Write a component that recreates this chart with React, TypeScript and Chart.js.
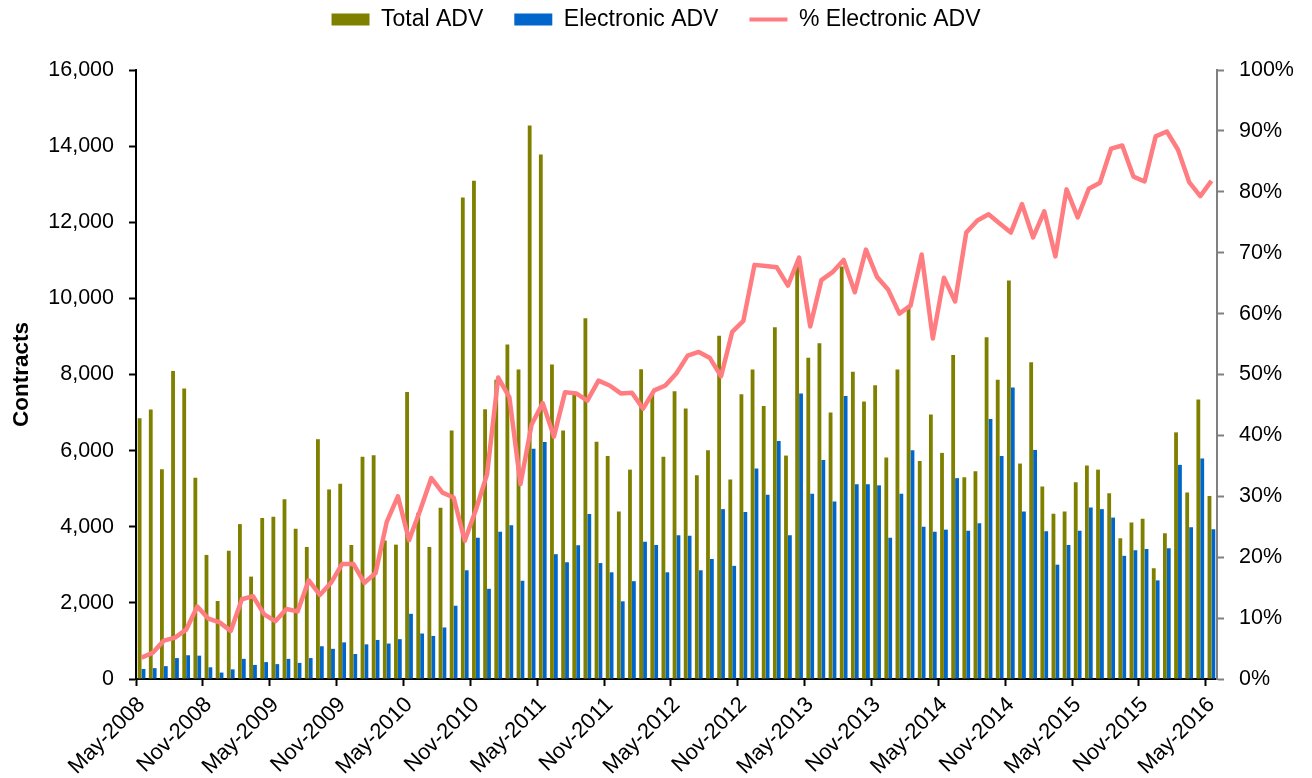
import React, { useEffect, useRef } from 'react';
import { Chart, registerables } from 'chart.js';

Chart.register(...registerables);

const categories = [
  'May-2008', 'Jun-2008', 'Jul-2008', 'Aug-2008', 'Sep-2008', 'Oct-2008', 'Nov-2008', 'Dec-2008',
  'Jan-2009', 'Feb-2009', 'Mar-2009', 'Apr-2009', 'May-2009', 'Jun-2009', 'Jul-2009', 'Aug-2009', 'Sep-2009', 'Oct-2009', 'Nov-2009', 'Dec-2009',
  'Jan-2010', 'Feb-2010', 'Mar-2010', 'Apr-2010', 'May-2010', 'Jun-2010', 'Jul-2010', 'Aug-2010', 'Sep-2010', 'Oct-2010', 'Nov-2010', 'Dec-2010',
  'Jan-2011', 'Feb-2011', 'Mar-2011', 'Apr-2011', 'May-2011', 'Jun-2011', 'Jul-2011', 'Aug-2011', 'Sep-2011', 'Oct-2011', 'Nov-2011', 'Dec-2011',
  'Jan-2012', 'Feb-2012', 'Mar-2012', 'Apr-2012', 'May-2012', 'Jun-2012', 'Jul-2012', 'Aug-2012', 'Sep-2012', 'Oct-2012', 'Nov-2012', 'Dec-2012',
  'Jan-2013', 'Feb-2013', 'Mar-2013', 'Apr-2013', 'May-2013', 'Jun-2013', 'Jul-2013', 'Aug-2013', 'Sep-2013', 'Oct-2013', 'Nov-2013', 'Dec-2013',
  'Jan-2014', 'Feb-2014', 'Mar-2014', 'Apr-2014', 'May-2014', 'Jun-2014', 'Jul-2014', 'Aug-2014', 'Sep-2014', 'Oct-2014', 'Nov-2014', 'Dec-2014',
  'Jan-2015', 'Feb-2015', 'Mar-2015', 'Apr-2015', 'May-2015', 'Jun-2015', 'Jul-2015', 'Aug-2015', 'Sep-2015', 'Oct-2015', 'Nov-2015', 'Dec-2015',
  'Jan-2016', 'Feb-2016', 'Mar-2016', 'Apr-2016', 'May-2016',
];

// Tick labels shown on the x axis (every six months)
const tickLabels = [
  'May-2008', 'Nov-2008', 'May-2009', 'Nov-2009', 'May-2010', 'Nov-2010', 'May-2011', 'Nov-2011', 'May-2012',
  'Nov-2012', 'May-2013', 'Nov-2013', 'May-2014', 'Nov-2014', 'May-2015', 'Nov-2015', 'May-2016',
];

const totalADV = [
  6850, 7080, 5510, 8090, 7630, 5290, 3260, 2050,
  3370, 4070, 2690, 4230, 4260, 4720, 3950, 3470, 6300, 4980, 5130, 3520,
  5840, 5880, 3640, 3530, 7540, 4370, 3470, 4500, 6530, 12650, 13090, 7090,
  7860, 8790, 8130, 14540, 13780, 8260, 6530, 7460, 9480, 6230, 5860, 4400,
  5500, 8140, 7490, 5840, 7560, 7110, 5350, 6010, 9020, 5240, 7480, 8130,
  7170, 9240, 5870, 10850, 8440, 8820, 7000, 10840, 8070, 7290, 7720, 5820,
  8130, 9810, 5730, 6950, 5940, 8510, 5300, 5460, 8980, 7860, 10470, 5660,
  8320, 5060, 4340, 4400, 5170, 5610, 5500, 4880, 3700, 4110, 4210, 2910,
  3830, 6480, 4900, 7340, 4810,
];

const electronicADV = [
  264, 285, 338, 550, 624, 613, 307, 169,
  254, 529, 370, 444, 391, 529, 423, 550, 860, 793, 962, 656,
  910, 1026, 931, 1047, 1713, 1195, 1132, 1354, 1925, 2856, 3712, 2369,
  3871, 4040, 2581, 6049, 6229, 3279, 3067, 3511, 4336, 3046, 2803, 2041,
  2570, 3606, 3522, 2803, 3776, 3765, 2856, 3152, 4463, 2972, 4389, 5531,
  4844, 6250, 3776, 7498, 4865, 5753, 4664, 7435, 5119, 5119, 5087, 3712,
  4865, 6007, 3998, 3871, 3924, 5277, 3892, 4093, 6832, 5859, 7657, 4400,
  6018, 3881, 3004, 3522, 3892, 4505, 4463, 4241, 3236, 3384, 3416, 2591,
  3437, 5626, 3987, 5796, 3934,
];

const pctElectronic = [
  3.5, 4.3, 6.3, 6.8, 8.1, 11.9, 9.9, 9.3,
  7.9, 13.1, 13.6, 10.6, 9.5, 11.5, 11.1, 16.2, 13.8, 15.8, 18.9, 18.9,
  15.8, 17.4, 25.8, 30.0, 22.8, 27.7, 33.0, 30.6, 29.8, 22.7, 27.8, 33.6,
  49.5, 46.3, 32.0, 41.8, 45.3, 39.8, 47.1, 46.9, 45.7, 49.0, 48.2, 46.9,
  47.0, 44.4, 47.4, 48.2, 50.2, 53.1, 53.7, 52.7, 49.7, 57.0, 58.8, 68.0,
  67.8, 67.6, 64.6, 69.2, 57.9, 65.5, 66.8, 68.8, 63.5, 70.5, 66.0, 63.9,
  60.0, 61.3, 69.7, 55.9, 65.9, 62.0, 73.3, 75.3, 76.3, 74.8, 73.3, 78.0,
  72.5, 76.8, 69.4, 80.4, 75.8, 80.5, 81.5, 87.1, 87.6, 82.5, 81.7, 89.1,
  89.9, 86.9, 81.6, 79.3, 81.8,
];

const FONT = "'Liberation Sans', Arial, Helvetica, sans-serif";
const OLIVE = '#808000';
const BLUE = '#0066CC';
const PINK = '#FF7C80';
const TICK_SIZE = 21.5;

export default function App() {
  const canvasRef = useRef<HTMLCanvasElement | null>(null);

  useEffect(() => {
    const canvas = canvasRef.current;
    if (!canvas) return;

    const legendMargin = {
      id: 'legendMargin',
      beforeInit(chart: any) {
        const legend = chart.legend;
        if (!legend) return;
        const origFit = legend.fit;
        legend.fit = function fit() {
          origFit.call(this);
          this.height += 29;
        };
      },
    };

    const chart = new Chart(canvas, {
      type: 'bar',
      data: {
        labels: categories,
        datasets: [
          {
            type: 'bar',
            label: 'Total ADV',
            data: totalADV,
            backgroundColor: OLIVE,
            borderWidth: 0,
            yAxisID: 'y',
            order: 1,
            categoryPercentage: 0.7,
            barPercentage: 0.98,
          },
          {
            type: 'bar',
            label: 'Electronic ADV',
            data: electronicADV,
            backgroundColor: BLUE,
            borderWidth: 0,
            yAxisID: 'y',
            order: 1,
            categoryPercentage: 0.7,
            barPercentage: 0.98,
          },
          {
            type: 'line',
            label: '% Electronic ADV',
            data: pctElectronic,
            borderColor: PINK,
            backgroundColor: PINK,
            borderWidth: 4.5,
            pointRadius: 0,
            tension: 0,
            borderJoinStyle: 'round',
            yAxisID: 'y1',
            order: 0,
          },
        ] as any,
      },
      options: {
        animation: false,
        responsive: false,
        maintainAspectRatio: false,
        layout: { padding: { left: 0, right: 0, top: 0, bottom: 0 } },
        plugins: {
          legend: {
            position: 'top',
            labels: {
              font: { family: FONT, size: 23 },
              color: '#000',
              usePointStyle: true,
              pointStyleWidth: 38,
              boxHeight: 12,
              padding: 8,
              generateLabels: (c: any) =>
                c.data.datasets.map((ds: any, i: number) => ({
                  text: i < 2 ? `${ds.label}\u2003` : ds.label,
                  fillStyle: i === 2 ? PINK : ds.backgroundColor,
                  strokeStyle: i === 2 ? PINK : ds.backgroundColor,
                  lineWidth: i === 2 ? 4 : 0,
                  pointStyle: i === 2 ? 'line' : 'rect',
                  datasetIndex: i,
                  hidden: false,
                  fontColor: '#000',
                })),
            },
          },
          tooltip: { enabled: false },
        },
        scales: {
          x: {
            type: 'category',
            offset: true,
            grid: {
              offset: true,
              drawOnChartArea: false,
              tickLength: 7,
              tickWidth: 2,
              tickColor: (ctx: any) => (ctx.index % 6 === 0 ? '#000' : 'rgba(0,0,0,0)'),
              color: (ctx: any) => (ctx.index % 6 === 0 ? '#000' : 'rgba(0,0,0,0)'),
            },
            border: { color: '#000', width: 2 },
            ticks: {
              autoSkip: false,
              minRotation: 45,
              maxRotation: 45,
              padding: 6,
              color: '#000',
              font: { family: FONT, size: 22 },
              callback: (_v: any, i: number) => (i % 6 === 0 ? tickLabels[i / 6] : ''),
            },
            afterFit: (s: any) => {
              s.height = 99;
            },
          },
          y: {
            position: 'left',
            min: 0,
            max: 16000,
            grid: { drawOnChartArea: false, tickLength: 7, tickWidth: 2, tickColor: '#000' },
            border: { color: '#000', width: 2 },
            ticks: {
              stepSize: 2000,
              padding: 15,
              color: '#000',
              font: { family: FONT, size: TICK_SIZE },
              callback: (v: any) => Number(v).toLocaleString('en-US'),
            },
            title: {
              display: true,
              text: 'Contracts',
              color: '#000',
              font: { family: FONT, size: 22.5, weight: 'bold' },
              padding: { top: 8, bottom: 0 },
            },
            afterFit: (s: any) => {
              s.width = 136;
            },
          },
          y1: {
            position: 'right',
            min: 0,
            max: 100,
            grid: { drawOnChartArea: false, tickLength: 7, tickWidth: 2, tickColor: '#808080' },
            border: { color: '#808080', width: 2 },
            ticks: {
              stepSize: 10,
              padding: 15,
              color: '#000',
              font: { family: FONT, size: TICK_SIZE },
              callback: (v: any) => `${v}%`,
            },
            afterFit: (s: any) => {
              s.width = 95;
            },
          },
        },
      } as any,
      plugins: [legendMargin],
    });

    return () => {
      chart.destroy();
    };
  }, []);

  return (
    <div style={{ position: 'fixed', left: 0, top: 0, width: 1312, height: 778, background: '#fff' }}>
      <canvas ref={canvasRef} width={1312} height={778} style={{ width: 1312, height: 778, display: 'block' }} />
    </div>
  );
}
